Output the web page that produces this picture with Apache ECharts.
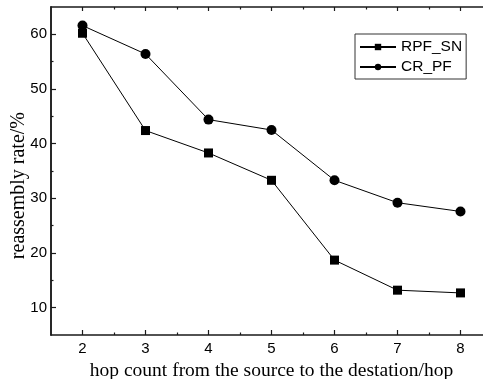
<!DOCTYPE html>
<html>
<head>
<meta charset="utf-8">
<script src="https://cdn.jsdelivr.net/npm/echarts@6/dist/echarts.min.js"></script>
<style>
  html, body { margin: 0; padding: 0; background: #fff; }
  #chart { width: 483px; height: 379px; }
</style>
</head>
<body>
<div id="chart"></div>
<script>
// hop counts and series values
const hops = [2, 3, 4, 5, 6, 7, 8];
const rpfSn = [60.2, 42.4, 38.3, 33.3, 18.7, 13.2, 12.7];
const crPf = [61.6, 56.4, 44.4, 42.5, 33.3, 29.2, 27.6];
const xMajor = [2, 3, 4, 5, 6, 7, 8];
const xMinor = [2.5, 3.5, 4.5, 5.5, 6.5, 7.5];
const yMajor = [10, 20, 30, 40, 50, 60];
const yMinor = [15, 25, 35, 45, 55];

const AXIS = "#1a1a1a";
const chart = echarts.init(document.getElementById("chart"), null, { renderer: "canvas" });

const baseX = (position, ticks, len, showLine) => ({
  type: "value",
  position: position,
  min: 1.5,
  max: 8.5,
  axisLine: { show: showLine, onZero: false, lineStyle: { color: AXIS, width: 1.5 } },
  axisTick: { show: true, inside: true, length: len, customValues: ticks, lineStyle: { color: AXIS, width: 1.2 } },
  axisLabel: { show: false },
  splitLine: { show: false }
});

const baseY = (ticks, len) => ({
  type: "value",
  position: "left",
  min: 5,
  max: 65,
  axisLine: { show: true, onZero: false, lineStyle: { color: AXIS, width: 1.5 } },
  axisTick: { show: true, inside: true, length: len, customValues: ticks, lineStyle: { color: AXIS, width: 1.2 } },
  axisLabel: { show: false },
  splitLine: { show: false }
});

const xMain = baseX("bottom", xMajor, 5, true);
xMain.axisLabel = {
  show: true,
  customValues: xMajor,
  color: "#000",
  fontFamily: "Liberation Sans",
  fontSize: 15,
  margin: 6
};
xMain.name = "hop count from the source to the destation/hop";
xMain.nameLocation = "middle";
xMain.nameGap = 20;
xMain.nameTextStyle = { color: "#000", fontFamily: "Liberation Serif", fontSize: 19.5 };

const yMain = baseY(yMajor, 5);
yMain.axisLabel = {
  show: true,
  customValues: yMajor,
  color: "#000",
  fontFamily: "Liberation Sans",
  fontSize: 15,
  margin: 4
};

chart.setOption({
  animation: false,
  backgroundColor: "#fff",
  grid: { left: 51, width: 441, top: 7, bottom: 44, outerBoundsMode: "none", containLabel: false },
  legend: {
    orient: "vertical",
    left: 355,
    top: 34,
    padding: [5, 4, 4, 4],
    itemWidth: 36,
    itemHeight: 8,
    itemGap: 4,
    borderColor: "#333",
    borderWidth: 1,
    textStyle: { color: "#000", fontFamily: "Liberation Sans", fontSize: 15.5 },
    data: ["RPF_SN", "CR_PF"]
  },
  xAxis: [
    xMain,
    baseX("bottom", xMinor, 2.5, false),
    baseX("top", xMajor, 4, true),
    baseX("top", xMinor, 2.5, false)
  ],
  yAxis: [yMain, baseY(yMinor, 2.5)],
  graphic: [{
    type: "text",
    left: 9,
    top: 112,
    rotation: Math.PI / 2,
    style: {
      text: "reassembly rate/%",
      fill: "#000",
      font: "20px 'Liberation Serif'"
    }
  }],
  series: [
    {
      name: "RPF_SN",
      type: "line",
      data: hops.map((h, i) => [h, rpfSn[i]]),
      symbol: "rect",
      symbolSize: 9,
      lineStyle: { color: "#000", width: 1 },
      itemStyle: { color: "#000" }
    },
    {
      name: "CR_PF",
      type: "line",
      data: hops.map((h, i) => [h, crPf[i]]),
      symbol: "circle",
      symbolSize: 10,
      lineStyle: { color: "#000", width: 1 },
      itemStyle: { color: "#000" }
    }
  ]
});
</script>
</body>
</html>
